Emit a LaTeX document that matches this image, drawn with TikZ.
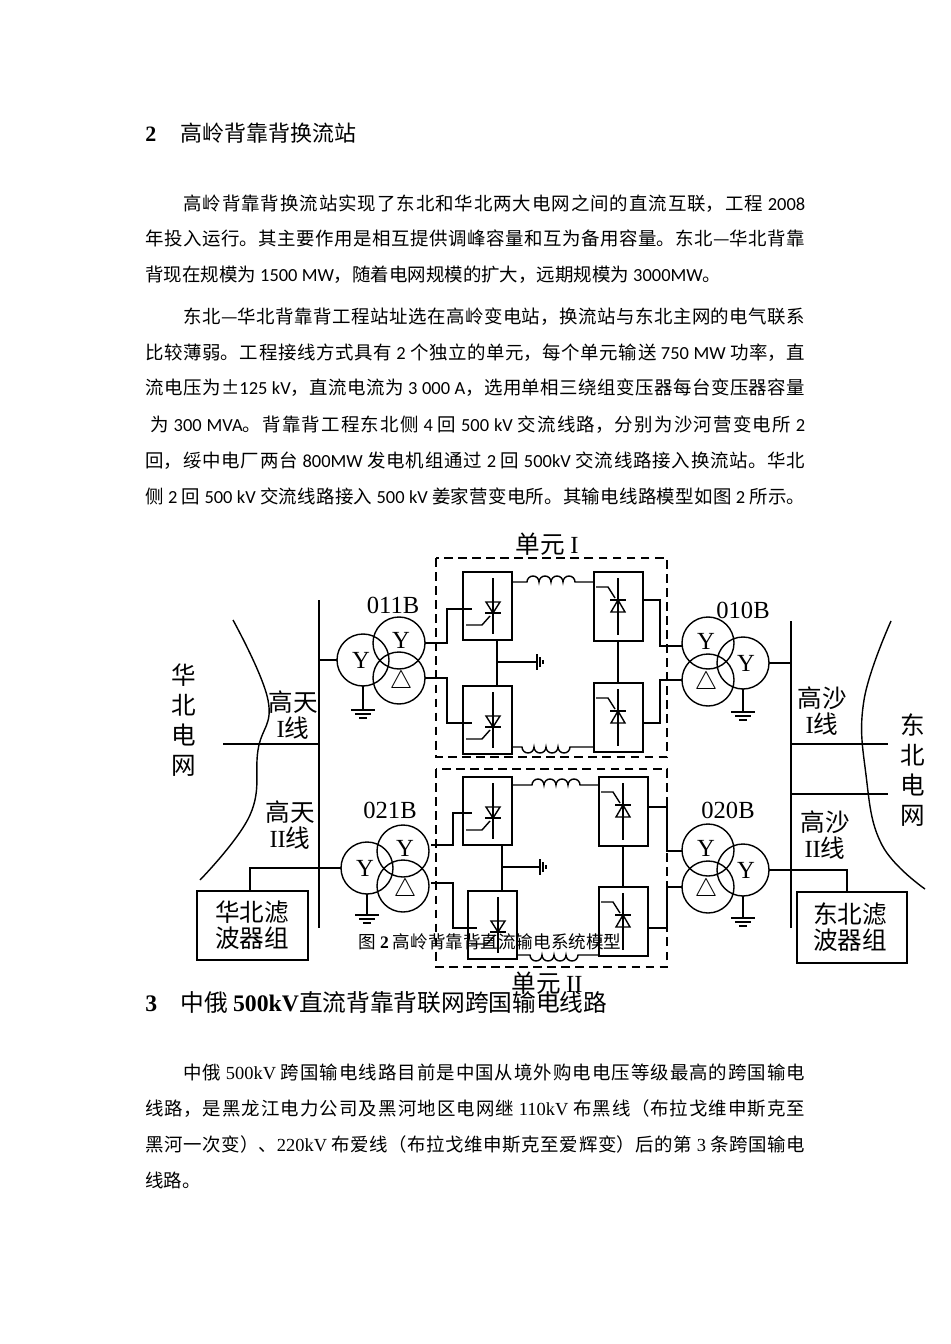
\documentclass[tikz,border=0pt]{standalone}
\usepackage{fontspec}
\setmainfont{Noto Sans CJK SC}
\newfontfamily\lat{Carlito}
\newfontfamily\tms{Liberation Serif}
\XeTeXlinebreaklocale "zh"
\XeTeXlinebreakskip=0pt plus 2pt
\tikzset{
 body/.style={anchor=base west,inner sep=0,font=\fontsize{10.5pt}{12pt}\selectfont},
 full/.style={body,text width=13.2cm,align=justify},
 lbl/.style={inner sep=0,font=\fontsize{14pt}{15pt}\selectfont},
 dbox/.style={draw,dashed,line width=0.8pt,dash pattern=on 5pt off 3pt},
 ln/.style={line width=0.8pt}
}
\newcommand\convL[2]{\begin{scope}[shift={(#1,#2)},ln]
 \draw (0,0) rectangle (49,68); \draw (30,6)--(30,62);
 \draw (23,30)--(37,30)--(30,41)--cycle; \draw (22,41)--(38,41);
 \draw (3,53)--(19,53)--(27,44);\end{scope}}
\newcommand\convR[2]{\begin{scope}[shift={(#1,#2)},ln]
 \draw (0,0) rectangle (49,69); \draw (24,6)--(24,63);
 \draw (17,40)--(31,40)--(24,28)--cycle; \draw (16,28)--(32,28);
 \draw (2,15)--(14,15)--(21,26);\end{scope}}
\newcommand\gnd[2]{\draw[ln] (#1-12,#2)--(#1+12,#2) (#1-8,#2+4)--(#1+8,#2+4) (#1-4,#2+8)--(#1+4,#2+8);}
\newcommand\gndr[2]{\draw[ln] (#1,#2-8)--(#1,#2+8) (#1+3,#2-5)--(#1+3,#2+5) (#1+6,#2-2)--(#1+6,#2+2);}
\newcommand\trL[3]{% left Y center, top Y, delta
 \draw[ln] (#1,#2) circle[radius=26] (#1+36,#2-17) circle[radius=26] (#1+36,#2+18) circle[radius=26];
 \node[lbl] at (#1-2,#2) {\tms Y}; \node[lbl] at (#1+38,#2-20) {\tms Y};
 \node[lbl] at (#1+38,#2+22) {$\bigtriangleup$};}
\newcommand\trR[2]{% right Y center
 \draw[ln] (#1,#2) circle[radius=26] (#1-35,#2-20) circle[radius=26] (#1-35,#2+17) circle[radius=26];
 \node[lbl] at (#1+3,#2) {\tms Y}; \node[lbl] at (#1-37,#2-22) {\tms Y};
 \node[lbl] at (#1-37,#2+20) {$\bigtriangleup$};}
\begin{document}
\begin{tikzpicture}[x=0.02cm,y=-0.02cm]
\useasboundingbox (0,0) rectangle (950,1344);
\fill[white] (0,0) rectangle (950,1344);
% text
\node[body,font=\fontsize{12.5pt}{14pt}\selectfont] (h2) at (145,142) {\tms\bfseries 2};
\node[body,font=\fontsize{12.5pt}{14pt}\selectfont] (h2t) at (180,142) {高岭背靠背换流站};
\node[body,text width=12.44cm,align=justify] (p1) at (183,211) {\parfillskip=0pt 高岭背靠背换流站实现了东北和华北两大电网之间的直流互联，工程 {\lat 2008}\par};
\node[full] (p2) at (145,246) {\parfillskip=0pt 年投入运行。其主要作用是相互提供调峰容量和互为备用容量。东北—华北背靠\par};
\node[body] (p3) at (145,282) {背现在规模为 {\lat 1500 MW}，随着电网规模的扩大，远期规模为 {\lat 3000MW}。};
\node[body,text width=12.44cm,align=justify] (q1) at (183,324) {\parfillskip=0pt 东北—华北背靠背工程站址选在高岭变电站，换流站与东北主网的电气联系\par};
\node[full] (q2) at (145,359) {\parfillskip=0pt 比较薄弱。工程接线方式具有 {\lat 2} 个独立的单元，每个单元输送 {\lat 750 MW} 功率，直\par};
\node[full] (q3) at (145,395) {\parfillskip=0pt 流电压为±{\lat 125 kV}，直流电流为 {\lat 3 000 A}，选用单相三绕组变压器每台变压器容量\par};
\node[body,text width=13.1cm,align=justify] (q4) at (150,431) {\parfillskip=0pt 为 {\lat 300 MVA}。背靠背工程东北侧 {\lat 4} 回 {\lat 500 kV} 交流线路，分别为沙河营变电所 {\lat 2}\par};
\node[full] (q5) at (145,467) {\parfillskip=0pt 回，绥中电厂两台 {\lat 800MW} 发电机组通过 {\lat 2} 回 {\lat 500kV} 交流线路接入换流站。华北\par};
\node[full] (q6) at (145,503) {\parfillskip=0pt 侧 {\lat 2} 回 {\lat 500 kV} 交流线路接入 {\lat 500 kV} 姜家营变电所。其输电线路模型如图 {\lat 2} 所示。\par};
\node[body,font=\fontsize{13.5pt}{15pt}\selectfont] (h3) at (145,1011) {\tms\bfseries 3};
\node[body,font=\fontsize{13.5pt}{15pt}\selectfont] (h3t) at (180,1011) {中俄 {\tms\bfseries 500kV}直流背靠背联网跨国输电线路};
\node[body,text width=12.44cm,align=justify] (r1) at (183,1079) {\parfillskip=0pt 中俄 {\tms 500kV} 跨国输电线路目前是中国从境外购电电压等级最高的跨国输电\par};
\node[full] (r2) at (145,1115) {\parfillskip=0pt 线路，是黑龙江电力公司及黑河地区电网继 {\tms 110kV} 布黑线（布拉戈维申斯克至\par};
\node[full] (r3) at (145,1151) {\parfillskip=0pt 黑河一次变）、{\tms 220kV} 布爱线（布拉戈维申斯克至爱辉变）后的第 {\tms 3} 条跨国输电\par};
\node[body] (r4) at (145,1187) {线路。};
% ===== diagram =====
\draw[dbox] (436,558) rectangle (667,757);
\draw[dbox] (436,769) rectangle (667,967);
\node[lbl] (u1) at (547,544) {单元 {\tms I}};
\node[lbl] (u2) at (547,983) {单元 {\tms II}};
% left grid
\draw[ln] plot[smooth,tension=0.7] coordinates {(233,620) (268,700) (258,750) (250,815) (200,880)};
\node[lbl,align=center] (hb) at (184,720) {华\\[2pt]北\\[2pt]电\\[2pt]网};
\draw[ln] (319,600)--(319,928);
\draw[ln] (223,744)--(319,744);
\node[lbl,align=center] at (293,715) {高天\\{\tms I}线};
\node[lbl,align=center] at (290,825) {高天\\{\tms II}线};
% right grid
\draw[ln] plot[smooth,tension=0.7] coordinates {(891,621) (864,700) (866,775) (882,845) (925,889)};
\node[lbl,align=center] (db) at (913,770) {东\\[2pt]北\\[2pt]电\\[2pt]网};
\draw[ln] (791,621)--(791,928);
\draw[ln] (791,744)--(888,744) (791,794)--(888,794);
\node[lbl,align=center] at (822,711) {高沙\\{\tms I}线};
\node[lbl,align=center] at (825,835) {高沙\\{\tms II}线};
% transformers
\trL{363}{660}{}
\node[lbl] at (393,605) {\tms 011B};
\draw[ln] (319,660)--(337,660);
\draw[ln] (363,686)--(363,710); \gnd{363}{710}
\trL{367}{868}{}
\node[lbl] at (390,810) {\tms 021B};
\draw[ln] (250,891)--(250,868)--(341,868);
\draw[ln] (367,894)--(367,915); \gnd{367}{915}
\draw[ln] (197,891) rectangle (308,960);
\node[lbl,align=center] at (252,925) {华北滤\\波器组};
\trR{743}{663}
\node[lbl] at (743,610) {\tms 010B};
\draw[ln] (769,663)--(791,663);
\draw[ln] (743,689)--(743,712); \gnd{743}{712}
\trR{743}{870}
\node[lbl] at (728,810) {\tms 020B};
\draw[ln] (769,870)--(847,870)--(847,892);
\draw[ln] (743,896)--(743,918); \gnd{743}{918}
\draw[ln] (797,892) rectangle (907,963);
\node[lbl,align=center] at (850,927) {东北滤\\波器组};
% converters unit I
\convL{463}{572} \convL{463}{686}
\convR{594}{572} \convR{594}{683}
\draw[ln] (425,643)--(447,643)--(447,609)--(472,609);
\draw[ln] (425,678)--(447,678)--(447,723)--(472,723);
\draw[ln] (497,640)--(497,686) (497,662)--(537,662); \gndr{537}{662}
\draw[ln] (512,582)--(527,582) arc[start angle=180,end angle=360,radius=6] arc[start angle=180,end angle=360,radius=6] arc[start angle=180,end angle=360,radius=6] arc[start angle=180,end angle=360,radius=6]--(594,582);
\draw[ln] (512,747)--(522,747) arc[start angle=180,end angle=0,radius=6] arc[start angle=180,end angle=0,radius=6] arc[start angle=180,end angle=0,radius=6] arc[start angle=180,end angle=0,radius=6]--(594,747);
\draw[ln] (618,641)--(618,683);
\draw[ln] (643,600)--(660,600)--(660,646)--(682,646);
\draw[ln] (643,723)--(660,723)--(660,680)--(682,680);
% converters unit II
\convL{463}{777} \convL{468}{891}
\convR{599}{777} \convR{599}{887}
\draw[ln] (431,845)--(453,845)--(453,813)--(472,813);
\draw[ln] (431,883)--(453,883)--(453,928)--(477,928);
\draw[ln] (502,845)--(502,891) (502,867)--(540,867); \gndr{540}{867}
\draw[ln] (512,785)--(532,785) arc[start angle=180,end angle=360,radius=6] arc[start angle=180,end angle=360,radius=6] arc[start angle=180,end angle=360,radius=6] arc[start angle=180,end angle=360,radius=6]--(599,785);
\draw[ln] (517,955)--(530,955) arc[start angle=180,end angle=0,radius=6] arc[start angle=180,end angle=0,radius=6] arc[start angle=180,end angle=0,radius=6] arc[start angle=180,end angle=0,radius=6]--(599,955);
\draw[ln] (623,846)--(623,887);
\draw[ln] (648,807)--(667,807)--(667,851)--(682,851);
\draw[ln] (648,928)--(667,928)--(667,887)--(682,887);
\node[inner sep=0,font=\fontsize{10pt}{11pt}\selectfont] (cap) at (490,942) {图 {\tms\bfseries 2} 高岭背靠背直流输电系统模型};
\end{tikzpicture}
\end{document}
